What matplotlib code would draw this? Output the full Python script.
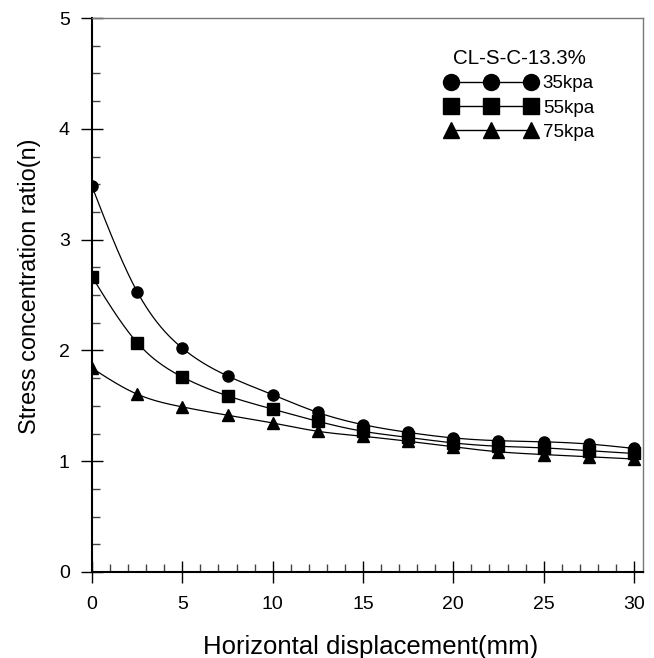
import numpy as np
import matplotlib.pyplot as plt
from matplotlib.ticker import MultipleLocator

plt.rcParams['font.family'] = ['Liberation Sans', 'DejaVu Sans']

# horizontal displacement (mm) and stress concentration ratio for each load
disp = [0, 2.5, 5, 7.5, 10, 12.5, 15, 17.5, 20, 22.5, 25, 27.5, 30]
n35 = [3.48, 2.53, 2.02, 1.77, 1.60, 1.44, 1.33, 1.26, 1.21, 1.185, 1.175, 1.155, 1.115]
n55 = [2.665, 2.07, 1.76, 1.59, 1.47, 1.36, 1.27, 1.215, 1.165, 1.135, 1.12, 1.095, 1.07]
n75 = [1.84, 1.605, 1.49, 1.415, 1.345, 1.27, 1.225, 1.18, 1.13, 1.085, 1.06, 1.04, 1.02]
labels = ['35kpa', '55kpa', '75kpa']
markers = ['o', 's', '^']


def natural_spline(x, y, npts=300):
    # natural cubic spline, used only for drawing the connecting curve
    x = np.asarray(x, float)
    y = np.asarray(y, float)
    n = len(x)
    h = np.diff(x)
    A = np.zeros((n, n))
    r = np.zeros(n)
    A[0, 0] = 1
    A[-1, -1] = 1
    for i in range(1, n - 1):
        A[i, i - 1] = h[i - 1]
        A[i, i] = 2 * (h[i - 1] + h[i])
        A[i, i + 1] = h[i]
        r[i] = 3 * ((y[i + 1] - y[i]) / h[i] - (y[i] - y[i - 1]) / h[i - 1])
    c = np.linalg.solve(A, r)
    xs = np.linspace(x[0], x[-1], npts)
    idx = np.clip(np.searchsorted(x, xs) - 1, 0, n - 2)
    dx = xs - x[idx]
    b = (y[1:] - y[:-1]) / h - h * (2 * c[:-1] + c[1:]) / 3
    d = (c[1:] - c[:-1]) / (3 * h)
    ys = y[idx] + b[idx] * dx + c[idx] * dx**2 + d[idx] * dx**3
    return xs, ys


fig = plt.figure(figsize=(6.54, 6.58), dpi=100)
ax = fig.add_axes([0.1407, 0.1307, 0.8425, 0.8419])

for vals, lab, m in zip([n35, n55, n75], labels, markers):
    xs, ys = natural_spline(disp, vals)
    ax.plot(xs, ys, 'k-', lw=0.9)
    ax.plot(disp, vals, linestyle='none', marker=m, color='k', ms=8 if m != '^' else 8.5)
    # legend proxy: three markers joined by a line
    ax.plot([], [], 'k-', lw=1.0, marker=m, ms=11.5, label=lab)

ax.set_xlim(0, 30.5)
ax.set_ylim(0, 5)
ax.xaxis.set_major_locator(MultipleLocator(5))
ax.xaxis.set_minor_locator(MultipleLocator(1))
ax.yaxis.set_major_locator(MultipleLocator(1))
ax.yaxis.set_minor_locator(MultipleLocator(0.25))

ax.tick_params(which='major', direction='inout', length=16, width=1.0, labelsize=14)
ax.tick_params(axis='x', which='major', pad=9)
ax.tick_params(axis='y', which='major', pad=8)
ax.tick_params(which='minor', direction='in', length=5.5, width=1.0, color='#444444')

for s in ['left', 'bottom']:
    ax.spines[s].set_linewidth(1.5)
for s in ['top', 'right']:
    ax.spines[s].set_linewidth(1.0)
    ax.spines[s].set_color('#777777')

ax.set_xlabel('Horizontal displacement(mm)', fontsize=18.5, labelpad=16, x=0.506)
ax.set_ylabel('Stress concentration ratio(n)', fontsize=16.9, labelpad=13, y=0.516)

leg = ax.legend(title='CL-S-C-13.3%', loc='upper left', bbox_to_anchor=(0.641, 0.944),
                frameon=False, numpoints=3, handlelength=4.86, handletextpad=0.34,
                fontsize=13.5, title_fontsize=14.8, labelspacing=0.38,
                borderpad=0, borderaxespad=0)

fig.savefig('out.png', dpi=100)
